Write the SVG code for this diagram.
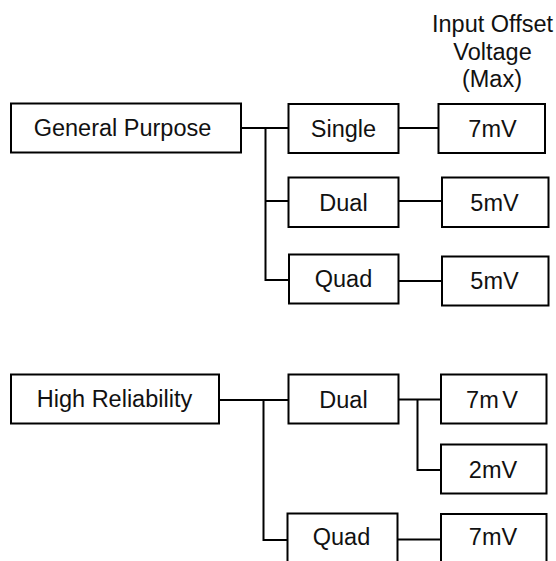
<svg xmlns="http://www.w3.org/2000/svg" width="556" height="561" viewBox="0 0 556 561">
<style>
.box{fill:#fff;stroke:#000;stroke-width:2}
.t{font-family:"Liberation Sans",Arial,sans-serif;font-size:23.5px;fill:#111;text-anchor:middle}
.c{fill:none;stroke:#000;stroke-width:2}
</style>
<rect width="556" height="561" fill="#fff"/>
<g id="header">
<text class="t" x="492.5" y="32">Input Offset</text>
<text class="t" x="492.5" y="60">Voltage</text>
<text class="t" x="492" y="87">(Max)</text>
</g>
<g id="connectors">
<path class="c" d="M241 128H288.5M265.5 128V280H289M265.5 201H288.5M398.5 128H438.5M398.5 201H442M398.5 281H442"/>
<path class="c" d="M219 400H288.5M263.5 400V540H287.5M398.5 399.5H441M417.5 399.5V470H441M397.5 539.5H441"/>
</g>
<g id="general-purpose"><rect class="box" x="11" y="103.5" width="230" height="49"/><text class="t" x="122.5" y="136">General Purpose</text></g>
<g id="gp-single"><rect class="box" x="288.5" y="104" width="110" height="49"/><text class="t" x="343.5" y="137">Single</text></g>
<g id="gp-single-v"><rect class="box" x="438.5" y="104" width="106.5" height="49"/><text class="t" x="492.5" y="137">7mV</text></g>
<g id="gp-dual"><rect class="box" x="288.5" y="177.5" width="110" height="49.5"/><text class="t" x="343.5" y="211">Dual</text></g>
<g id="gp-dual-v"><rect class="box" x="442" y="177.5" width="106.5" height="49.5"/><text class="t" x="494.5" y="211">5mV</text></g>
<g id="gp-quad"><rect class="box" x="289" y="254.5" width="109.5" height="49"/><text class="t" x="343.5" y="287">Quad</text></g>
<g id="gp-quad-v"><rect class="box" x="442" y="256.5" width="106.5" height="49"/><text class="t" x="494.5" y="289">5mV</text></g>
<g id="high-reliability"><rect class="box" x="11" y="374.5" width="208" height="49"/><text class="t" x="114.5" y="407">High Reliability</text></g>
<g id="hr-dual"><rect class="box" x="288.5" y="374.5" width="110" height="49"/><text class="t" x="343.5" y="407.5">Dual</text></g>
<g id="hr-dual-v1"><rect class="box" x="441" y="374.5" width="105.5" height="49"/><text class="t" x="492" y="407.5" style="word-spacing:-3px">7m V</text></g>
<g id="hr-dual-v2"><rect class="box" x="441" y="444.5" width="105.5" height="49"/><text class="t" x="493" y="477.5">2mV</text></g>
<g id="hr-quad"><rect class="box" x="287.5" y="513.5" width="110" height="60"/><text class="t" x="341.5" y="545">Quad</text></g>
<g id="hr-quad-v"><rect class="box" x="441" y="514" width="105.5" height="60"/><text class="t" x="493" y="545">7mV</text></g>
</svg>
